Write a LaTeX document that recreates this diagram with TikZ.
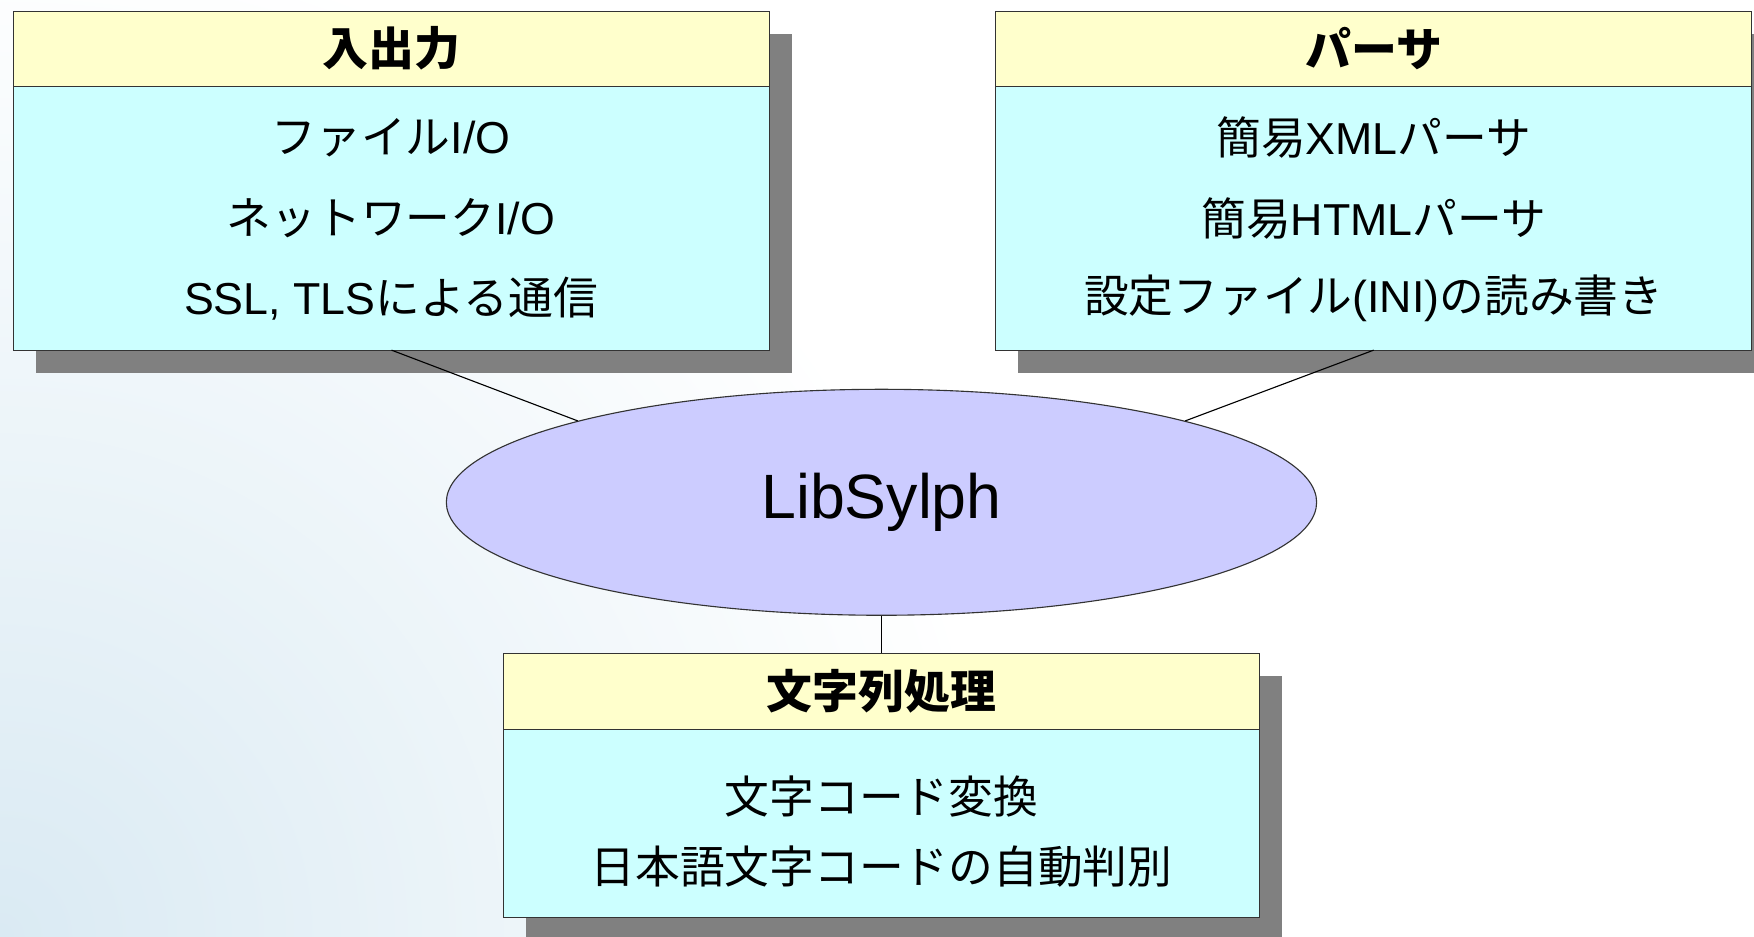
\documentclass[tikz,border=0pt]{standalone}
\usepackage{fontspec}
\setmainfont{Liberation Sans}
\newfontfamily\jp{Noto Sans CJK JP}
\usetikzlibrary{shapes.geometric}
\pgfdeclarelayer{bg}
\pgfdeclarelayer{shadowlayer}
\pgfsetlayers{bg,shadowlayer,main}
\definecolor{hdrfill}{HTML}{FFFFCC}
\definecolor{bodyfill}{HTML}{CCFFFF}
\definecolor{ellfill}{HTML}{CCCCFF}
\definecolor{shadowgray}{HTML}{808080}
\definecolor{bgblue}{HTML}{DAEAF3}
\begin{document}
\begin{tikzpicture}[x=0.5pt,y=-0.5pt,
  hdr/.style={draw=black!80, line width=0.5pt, fill=hdrfill, rectangle, minimum width=338pt, minimum height=33.5pt, anchor=north west, inner sep=0pt, outer sep=0pt, font={\jp\bfseries\fontsize{20.5}{24}\selectfont}},
  bodybox/.style={draw=black!80, line width=0.5pt, fill=bodyfill, rectangle, minimum width=338pt, anchor=north west, inner sep=0pt, outer sep=0pt},
  txt/.style={font={\fontsize{20}{24}\selectfont}, inner sep=0pt},
  link/.style={draw=black, line width=0.5pt}]
\path[use as bounding box] (0,0) rectangle (1568,837);
\begin{pgfonlayer}{bg}
  \fill[white] (0,0) rectangle (1568,837);
  \shade[inner color=bgblue, outer color=white] (0,837) circle (900);
\end{pgfonlayer}

% boxes
\node[hdr] (L-hdr) at (12,10) {入出力};
\node[bodybox, minimum height=118pt] (L-body) at (12,77) {};
\node[hdr] (R-hdr) at (890,10) {パーサ};
\node[bodybox, minimum height=118pt] (R-body) at (890,77) {};
\node[hdr, minimum height=34pt] (B-hdr) at (450,584) {文字列処理};
\node[bodybox, minimum height=84pt] (B-body) at (450,652) {};

\begin{pgfonlayer}{shadowlayer}
  \fill[shadowgray] ([shift={(20,20)}]L-hdr.north west) rectangle ([shift={(20,20)}]L-body.south east);
  \fill[shadowgray] ([shift={(20,20)}]R-hdr.north west) rectangle ([shift={(20,20)}]R-body.south east);
  \fill[shadowgray] ([shift={(20,20)}]B-hdr.north west) rectangle ([shift={(20,20)}]B-body.south east);
\end{pgfonlayer}

% texts
\node[txt] (l1) at (349.5,123) {{\jp ファイル}I/O};
\node[txt] (l2) at (349.5,195) {{\jp ネットワーク}I/O};
\node[txt] (l3) at (349.5,267) {SSL, TLS{\jp による通信}};
\node[txt] (r1) at (1228,123) {{\jp 簡易}XML{\jp パーサ}};
\node[txt] (r2) at (1228,195) {{\jp 簡易}HTML{\jp パーサ}};
\node[txt] (r3) at (1228,267) {{\jp 設定ファイル}(INI){\jp の読み書き}};
\node[txt] (b1) at (788,712) {{\jp 文字コード変換}};
\node[txt] (b2) at (788,775) {{\jp 日本語文字コードの自動判別}};

% core
\node[ellipse, draw=black!80, line width=0.5pt, fill=ellfill, minimum width=389pt, minimum height=101pt, inner sep=0pt, font={\fontsize{28}{32}\selectfont}] (core) at (788,449) {LibSylph};

% connectors
\draw[link] (L-body.south) -- (core.165);
\draw[link] (R-body.south) -- (core.15);
\draw[link] (core.south) -- (B-hdr.north);
\end{tikzpicture}
\end{document}
